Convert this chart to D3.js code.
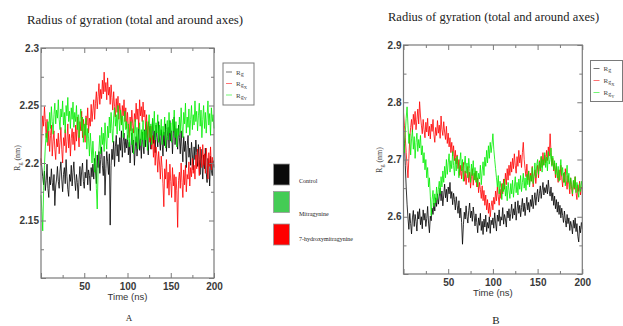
<!DOCTYPE html>
<html><head><meta charset="utf-8">
<script src="https://cdn.jsdelivr.net/npm/d3@7"></script>
<style>body{margin:0;background:#fff}svg{display:block}</style>
</head><body><svg id="c" width="623" height="326"></svg>
<script>
// ---- data ----
const timeNs = [0,1,2,3,4,5,6,7,8,9,10,11,12,13,14,15,16,17,18,19,20,21,22,23,24,25,26,27,28,29,30,31,32,33,34,35,36,37,38,39,40,41,42,43,44,45,46,47,48,49,50,51,52,53,54,55,56,57,58,59,60,61,62,63,64,65,66,67,68,69,70,71,72,73,74,75,76,77,78,79,80,81,82,83,84,85,86,87,88,89,90,91,92,93,94,95,96,97,98,99,100,101,102,103,104,105,106,107,108,109,110,111,112,113,114,115,116,117,118,119,120,121,122,123,124,125,126,127,128,129,130,131,132,133,134,135,136,137,138,139,140,141,142,143,144,145,146,147,148,149,150,151,152,153,154,155,156,157,158,159,160,161,162,163,164,165,166,167,168,169,170,171,172,173,174,175,176,177,178,179,180,181,182,183,184,185,186,187,188,189,190,191,192,193,194,195,196,197,198,199,200];

const seriesNames = ["Rg", "RgX", "RgY"];
const seriesColors = ["#000000", "#ff0000", "#00ee00"];

// Panel A (nm)
const aRg = [2.204,2.196,2.188,2.181,2.193,2.176,2.185,2.199,2.178,2.170,2.188,2.181,2.195,2.183,2.176,2.190,2.163,2.180,2.186,2.197,
 2.184,2.178,2.193,2.201,2.186,2.175,2.190,2.196,2.182,2.203,2.188,2.177,2.171,2.190,2.184,2.198,2.180,2.192,2.201,2.185,
 2.176,2.190,2.183,2.169,2.186,2.197,2.180,2.193,2.200,2.184,2.178,2.192,2.187,2.203,2.181,2.194,2.189,2.176,2.196,2.188,
 2.199,2.186,2.204,2.193,2.182,2.207,2.196,2.210,2.191,2.203,2.214,2.198,2.189,2.206,2.172,2.195,2.210,2.201,2.190,2.208,
 2.146,2.198,2.212,2.203,2.219,2.197,2.214,2.224,2.206,2.216,2.201,2.222,2.211,2.228,2.205,2.219,2.226,2.209,2.221,2.213,
 2.224,2.207,2.218,2.200,2.215,2.226,2.209,2.220,2.198,2.214,2.223,2.206,2.217,2.230,2.211,2.221,2.204,2.227,2.216,2.208,
 2.229,2.214,2.235,2.219,2.207,2.226,2.232,2.212,2.224,2.238,2.217,2.228,2.209,2.233,2.222,2.214,2.236,2.220,2.211,2.229,
 2.218,2.206,2.227,2.215,2.234,2.210,2.223,2.231,2.213,2.237,2.219,2.228,2.208,2.226,2.240,2.216,2.230,2.221,2.212,2.233,
 2.222,2.208,2.228,2.214,2.201,2.223,2.210,2.219,2.196,2.215,2.224,2.205,2.213,2.198,2.218,2.207,2.194,2.214,2.203,2.220,
 2.209,2.197,2.216,2.203,2.190,2.212,2.200,2.186,2.207,2.195,2.213,2.192,2.183,2.204,2.198,2.180,2.206,2.193,2.189,2.202,
 2.196];
const aRgX = [2.198,2.224,2.241,2.232,2.249,2.236,2.222,2.238,2.215,2.228,2.210,2.224,2.233,2.206,2.219,2.228,2.212,2.203,2.221,2.214,
 2.226,2.208,2.218,2.231,2.212,2.200,2.222,2.215,2.229,2.209,2.219,2.234,2.213,2.225,2.206,2.221,2.230,2.216,2.227,2.211,
 2.233,2.219,2.240,2.225,2.214,2.236,2.228,2.245,2.222,2.238,2.230,2.218,2.241,2.233,2.248,2.226,2.239,2.232,2.251,2.236,
 2.246,2.255,2.238,2.252,2.262,2.247,2.258,2.269,2.251,2.264,2.256,2.272,2.260,2.279,2.262,2.270,2.255,2.274,2.259,2.266,
 2.251,2.268,2.257,2.246,2.262,2.249,2.240,2.256,2.244,2.258,2.238,2.252,2.245,2.233,2.250,2.241,2.255,2.236,2.248,2.230,
 2.244,2.232,2.222,2.240,2.228,2.246,2.234,2.226,2.243,2.236,2.252,2.238,2.247,2.230,2.255,2.241,2.249,2.236,2.253,2.240,
 2.246,2.229,2.242,2.222,2.236,2.226,2.218,2.232,2.212,2.224,2.205,2.220,2.198,2.214,2.206,2.192,2.210,2.200,2.186,2.206,
 2.196,2.182,2.162,2.195,2.186,2.203,2.178,2.192,2.172,2.199,2.184,2.170,2.196,2.180,2.190,2.166,2.188,2.176,2.144,2.185,
 2.192,2.178,2.200,2.183,2.170,2.194,2.181,2.198,2.175,2.190,2.186,2.201,2.180,2.196,2.188,2.204,2.191,2.198,2.186,2.207,
 2.195,2.212,2.200,2.189,2.214,2.203,2.196,2.216,2.198,2.208,2.191,2.213,2.202,2.186,2.209,2.197,2.214,2.194,2.205,2.200,
 2.198];
const aRgY = [2.172,2.158,2.141,2.176,2.198,2.214,2.226,2.218,2.236,2.228,2.244,2.230,2.249,2.236,2.225,2.242,2.252,2.234,2.246,2.239,
 2.255,2.238,2.229,2.247,2.240,2.254,2.233,2.244,2.226,2.250,2.241,2.257,2.236,2.245,2.230,2.248,2.238,2.253,2.231,2.244,
 2.236,2.250,2.229,2.242,2.222,2.238,2.247,2.228,2.240,2.218,2.234,2.224,2.239,2.212,2.230,2.221,2.206,2.226,2.214,2.200,
 2.219,2.205,2.192,2.210,2.178,2.160,2.194,2.212,2.224,2.208,2.231,2.216,2.226,2.210,2.235,2.220,2.212,2.232,2.222,2.240,
 2.226,2.244,2.230,2.218,2.240,2.248,2.232,2.242,2.225,2.250,2.238,2.228,2.246,2.233,2.241,2.222,2.238,2.245,2.229,2.236,
 2.220,2.234,2.214,2.228,2.236,2.216,2.230,2.208,2.226,2.238,2.218,2.231,2.212,2.226,2.235,2.215,2.229,2.220,2.237,2.214,
 2.228,2.220,2.236,2.211,2.231,2.242,2.222,2.234,2.216,2.239,2.228,2.245,2.220,2.235,2.226,2.242,2.218,2.233,2.224,2.238,
 2.216,2.232,2.224,2.240,2.213,2.229,2.237,2.220,2.244,2.226,2.235,2.218,2.238,2.228,2.246,2.222,2.236,2.214,2.230,2.224,
 2.240,2.226,2.248,2.232,2.222,2.244,2.234,2.252,2.226,2.240,2.231,2.247,2.224,2.238,2.250,2.229,2.242,2.233,2.254,2.236,
 2.245,2.228,2.241,2.252,2.232,2.246,2.222,2.238,2.250,2.230,2.244,2.226,2.240,2.254,2.233,2.243,2.224,2.248,2.236,2.242,
 2.230];

// Panel B (nm)
const bRg = [2.752,2.728,2.690,2.652,2.622,2.598,2.578,2.606,2.588,2.570,2.598,2.611,2.583,2.604,2.592,2.575,2.609,2.596,2.614,2.586,
 2.600,2.579,2.612,2.594,2.606,2.583,2.597,2.618,2.589,2.572,2.601,2.593,2.615,2.604,2.624,2.610,2.633,2.618,2.640,2.622,
 2.636,2.650,2.628,2.645,2.619,2.638,2.657,2.633,2.648,2.626,2.652,2.640,2.660,2.632,2.644,2.621,2.641,2.630,2.612,2.635,
 2.620,2.606,2.628,2.598,2.615,2.590,2.552,2.586,2.608,2.596,2.619,2.600,2.589,2.611,2.624,2.598,2.610,2.592,2.617,2.602,
 2.584,2.605,2.590,2.572,2.598,2.585,2.606,2.576,2.592,2.569,2.596,2.582,2.603,2.574,2.590,2.580,2.600,2.571,2.594,2.586,
 2.598,2.580,2.607,2.589,2.575,2.603,2.592,2.612,2.584,2.600,2.594,2.616,2.587,2.604,2.596,2.582,2.610,2.598,2.614,2.593,
 2.606,2.622,2.597,2.614,2.603,2.626,2.594,2.611,2.628,2.606,2.620,2.600,2.616,2.632,2.609,2.624,2.602,2.618,2.634,2.612,
 2.625,2.608,2.630,2.618,2.638,2.614,2.628,2.642,2.620,2.636,2.648,2.626,2.640,2.654,2.632,2.646,2.660,2.638,2.651,2.642,
 2.656,2.640,2.664,2.645,2.636,2.652,2.628,2.642,2.620,2.636,2.614,2.630,2.608,2.626,2.604,2.620,2.598,2.615,2.602,2.590,
 2.610,2.594,2.582,2.604,2.588,2.598,2.576,2.592,2.584,2.570,2.594,2.580,2.598,2.574,2.588,2.566,2.556,2.584,2.572,2.590,
 2.578];
const bRgX = [2.782,2.760,2.738,2.712,2.690,2.668,2.702,2.738,2.756,2.770,2.748,2.779,2.761,2.784,2.752,2.770,2.788,2.762,2.801,2.776,
 2.760,2.745,2.770,2.752,2.738,2.765,2.748,2.772,2.741,2.758,2.736,2.762,2.749,2.770,2.744,2.730,2.756,2.742,2.768,2.746,
 2.760,2.737,2.776,2.752,2.742,2.766,2.748,2.735,2.758,2.728,2.746,2.722,2.738,2.712,2.730,2.706,2.724,2.698,2.716,2.692,
 2.708,2.684,2.700,2.672,2.690,2.666,2.684,2.695,2.662,2.680,2.656,2.674,2.688,2.660,2.678,2.650,2.670,2.684,2.655,2.676,
 2.664,2.680,2.652,2.668,2.642,2.660,2.648,2.632,2.654,2.628,2.646,2.620,2.638,2.612,2.630,2.606,2.624,2.600,2.618,2.628,
 2.612,2.634,2.622,2.645,2.628,2.652,2.636,2.620,2.648,2.632,2.658,2.640,2.666,2.648,2.676,2.656,2.684,2.664,2.690,2.672,
 2.696,2.678,2.702,2.684,2.710,2.690,2.676,2.705,2.688,2.716,2.694,2.708,2.686,2.712,2.730,2.700,2.684,2.670,2.692,2.664,
 2.680,2.656,2.676,2.662,2.688,2.652,2.670,2.682,2.658,2.676,2.690,2.668,2.698,2.680,2.704,2.686,2.712,2.690,2.708,2.694,
 2.716,2.698,2.722,2.706,2.745,2.712,2.690,2.702,2.680,2.694,2.668,2.688,2.672,2.660,2.682,2.664,2.690,2.668,2.652,2.676,
 2.660,2.684,2.664,2.648,2.672,2.656,2.640,2.668,2.650,2.636,2.662,2.648,2.670,2.642,2.630,2.656,2.644,2.662,2.638,2.652,
 2.648];
const bRgY = [2.735,2.712,2.748,2.772,2.792,2.760,2.728,2.745,2.708,2.736,2.752,2.718,2.740,2.702,2.730,2.746,2.714,2.735,2.720,2.742,
 2.708,2.724,2.694,2.712,2.682,2.700,2.668,2.686,2.652,2.668,2.636,2.602,2.630,2.646,2.618,2.640,2.624,2.652,2.630,2.648,
 2.662,2.640,2.670,2.652,2.680,2.660,2.688,2.668,2.700,2.674,2.694,2.710,2.678,2.698,2.684,2.714,2.690,2.672,2.702,2.680,
 2.706,2.688,2.668,2.696,2.712,2.680,2.700,2.662,2.690,2.706,2.676,2.694,2.668,2.702,2.684,2.660,2.692,2.672,2.698,2.664,
 2.686,2.660,2.680,2.652,2.676,2.666,2.690,2.656,2.680,2.696,2.672,2.704,2.688,2.716,2.694,2.724,2.702,2.730,2.712,2.726,
 2.745,2.718,2.700,2.684,2.668,2.652,2.672,2.640,2.662,2.650,2.630,2.658,2.644,2.666,2.636,2.654,2.628,2.660,2.646,2.632,
 2.658,2.640,2.664,2.634,2.652,2.670,2.642,2.660,2.638,2.666,2.648,2.672,2.644,2.660,2.676,2.650,2.668,2.646,2.674,2.656,
 2.680,2.652,2.672,2.662,2.686,2.658,2.676,2.694,2.668,2.690,2.700,2.674,2.696,2.684,2.706,2.678,2.700,2.690,2.712,2.686,
 2.704,2.680,2.714,2.692,2.700,2.720,2.688,2.706,2.682,2.698,2.674,2.694,2.668,2.688,2.662,2.680,2.700,2.672,2.686,2.660,
 2.678,2.654,2.672,2.690,2.660,2.676,2.648,2.668,2.656,2.640,2.664,2.650,2.670,2.642,2.660,2.648,2.634,2.658,2.644,2.662,
 2.650];

const xMajorTicks = [0,50,100,150,200];
const xMinorTicks = [25,75,125,175];
const aYMajor = [2.1,2.15,2.2,2.25,2.3];
const aYMinor = [2.125,2.175,2.225,2.275];
const bYMajor = [2.5,2.6,2.7,2.8,2.9];
const bYMinor = [2.55,2.65,2.75,2.85];

const title = "Radius of gyration (total and around axes)";
const xLabel = "Time (ns)";
const compoundNames = ["Control", "Mitragynine", "7-hydroxymitragynine"];
const compoundColors = ["#0a0a0a", "#44cc55", "#ff0000"];

// ---- drawing ----
const svg = d3.select("#c");
const frameColor = "#7a7a7a";
const tickFont = "'Liberation Sans', Arial, sans-serif";
const serif = "'Liberation Serif', 'Times New Roman', serif";

function panel(cfg) {
  const x = d3.scaleLinear().domain([0, 200]).range([cfg.x0, cfg.x1]);
  const y = d3.scaleLinear().domain(cfg.yDomain).range([cfg.y1, cfg.y0]);
  const g = svg.append("g");

  const series = [cfg.rg, cfg.rgx, cfg.rgy];
  const line = d3.line().defined((d, i) => i < timeNs.length)
    .x((d, i) => x(timeNs[i])).y(d => y(d));
  series.forEach((s, k) => {
    g.append("path").datum(s).attr("d", line)
      .attr("fill", "none").attr("stroke", seriesColors[k])
      .attr("stroke-width", 0.8).attr("stroke-linejoin", "miter");
  });

  g.append("rect").attr("x", cfg.x0).attr("y", cfg.y0)
    .attr("width", cfg.x1 - cfg.x0).attr("height", cfg.y1 - cfg.y0)
    .attr("fill", "none").attr("stroke", frameColor).attr("stroke-width", 1.2);

  const fmtX = d => d === 0 ? "" : d3.format("d")(d);
  const styleAxis = (sel) => {
    sel.select(".domain").remove();
    sel.selectAll(".tick line").attr("stroke", frameColor).attr("stroke-width", 1);
    sel.selectAll("text").attr("font-family", tickFont).attr("font-size", 10)
      .attr("font-weight", "bold").attr("fill", "#3a3a3a");
  };
  g.append("g").attr("transform", `translate(0,${cfg.y1})`)
    .call(d3.axisBottom(x).tickValues(xMajorTicks).tickFormat(fmtX).tickSize(-5).tickPadding(5)).call(styleAxis);
  g.append("g").attr("transform", `translate(0,${cfg.y1})`)
    .call(d3.axisBottom(x).tickValues(xMinorTicks).tickFormat("").tickSize(-3)).call(styleAxis);
  g.append("g").attr("transform", `translate(0,${cfg.y0})`)
    .call(d3.axisTop(x).tickValues(xMajorTicks).tickFormat("").tickSize(-5)).call(styleAxis);
  g.append("g").attr("transform", `translate(0,${cfg.y0})`)
    .call(d3.axisTop(x).tickValues(xMinorTicks).tickFormat("").tickSize(-3)).call(styleAxis);
  const fmtY = d => (Math.abs(d - cfg.yDomain[0]) < 1e-9) ? "" : String(+d.toFixed(3));
  g.append("g").attr("transform", `translate(${cfg.x0},0)`)
    .call(d3.axisLeft(y).tickValues(cfg.yMajor).tickFormat(fmtY).tickSize(-5).tickPadding(2)).call(styleAxis);
  g.append("g").attr("transform", `translate(${cfg.x0},0)`)
    .call(d3.axisLeft(y).tickValues(cfg.yMinor).tickFormat("").tickSize(-3)).call(styleAxis);
  g.append("g").attr("transform", `translate(${cfg.x1},0)`)
    .call(d3.axisRight(y).tickValues(cfg.yMajor).tickFormat("").tickSize(-5)).call(styleAxis);
  g.append("g").attr("transform", `translate(${cfg.x1},0)`)
    .call(d3.axisRight(y).tickValues(cfg.yMinor).tickFormat("").tickSize(-3)).call(styleAxis);

  g.append("text").attr("x", cfg.titleX).attr("y", cfg.titleY)
    .attr("font-family", serif).attr("font-size", cfg.titleSize).attr("fill", "#222")
    .text(title);
  g.append("text").attr("x", (cfg.x0 + cfg.x1) / 2).attr("y", cfg.y1 + 22)
    .attr("text-anchor", "middle").attr("font-family", tickFont).attr("font-size", 9.5)
    .attr("fill", "#333").text(xLabel);
  const yl = g.append("text").attr("transform", `translate(${cfg.ylX},${cfg.ylY}) rotate(-90)`)
    .attr("text-anchor", "middle").attr("font-family", serif).attr("font-size", 8).attr("fill", "#444");
  yl.append("tspan").text("R");
  yl.append("tspan").attr("font-size", 6).attr("dy", 1.5).text("g");
  yl.append("tspan").attr("dy", -1.5).text(" (nm)");
  g.append("text").attr("x", cfg.letterX).attr("y", cfg.letterY).attr("text-anchor", "middle")
    .attr("font-family", serif).attr("font-size", cfg.letterSize).attr("fill", "#222").text(cfg.letter);

  const L = cfg.legend;
  g.append("rect").attr("x", L.x).attr("y", L.y).attr("width", L.w).attr("height", L.h)
    .attr("fill", "#fff").attr("stroke", frameColor).attr("stroke-width", 1);
  seriesNames.forEach((n, k) => {
    const yy = L.y + L.first + k * L.step;
    g.append("line").attr("x1", L.x + 3).attr("x2", L.x + 9).attr("y1", yy).attr("y2", yy)
      .attr("stroke", seriesColors[k]).attr("stroke-opacity", 0.55).attr("stroke-width", 1);
    const t = g.append("text").attr("x", L.x + 13).attr("y", yy + 2.5)
      .attr("font-family", serif).attr("font-size", 7).attr("fill", "#444");
    t.append("tspan").text("R");
    t.append("tspan").attr("font-size", 6).attr("dy", 1).text("g");
    if (n.length > 2) t.append("tspan").attr("font-size", 4.5).attr("dy", 1.5).text(n.slice(2));
  });
}

panel({
  x0: 41, x1: 214, y0: 48, y1: 278, yDomain: [2.1, 2.3],
  yMajor: aYMajor, yMinor: aYMinor, rg: aRg, rgx: aRgX, rgy: aRgY,
  titleX: 27, titleY: 24, titleSize: 12.8,
  ylX: 20, ylY: 158, letter: "A", letterX: 129, letterY: 321, letterSize: 9,
  legend: { x: 223, y: 63, w: 31, h: 42, first: 9, step: 11.5 }
});
panel({
  x0: 403.5, x1: 582.3, y0: 45, y1: 274, yDomain: [2.5, 2.9],
  yMajor: bYMajor, yMinor: bYMinor, rg: bRg, rgx: bRgX, rgy: bRgY,
  titleX: 388, titleY: 21, titleSize: 12.5,
  ylX: 382, ylY: 160, letter: "B", letterX: 496, letterY: 324, letterSize: 11,
  legend: { x: 590.5, y: 60.5, w: 32, h: 41, first: 8, step: 12 }
});

compoundNames.forEach((n, k) => {
  const top = [164, 191.5, 224][k];
  svg.append("rect").attr("x", 273.5).attr("y", top).attr("width", 16).attr("height", 21)
    .attr("fill", compoundColors[k]).attr("stroke", "#999").attr("stroke-width", 0.8);
  svg.append("text").attr("x", 299).attr("y", [183, 216, 241][k])
    .attr("font-family", serif).attr("font-size", 6).attr("fill", "#222").text(n);
});
</script></body></html>
